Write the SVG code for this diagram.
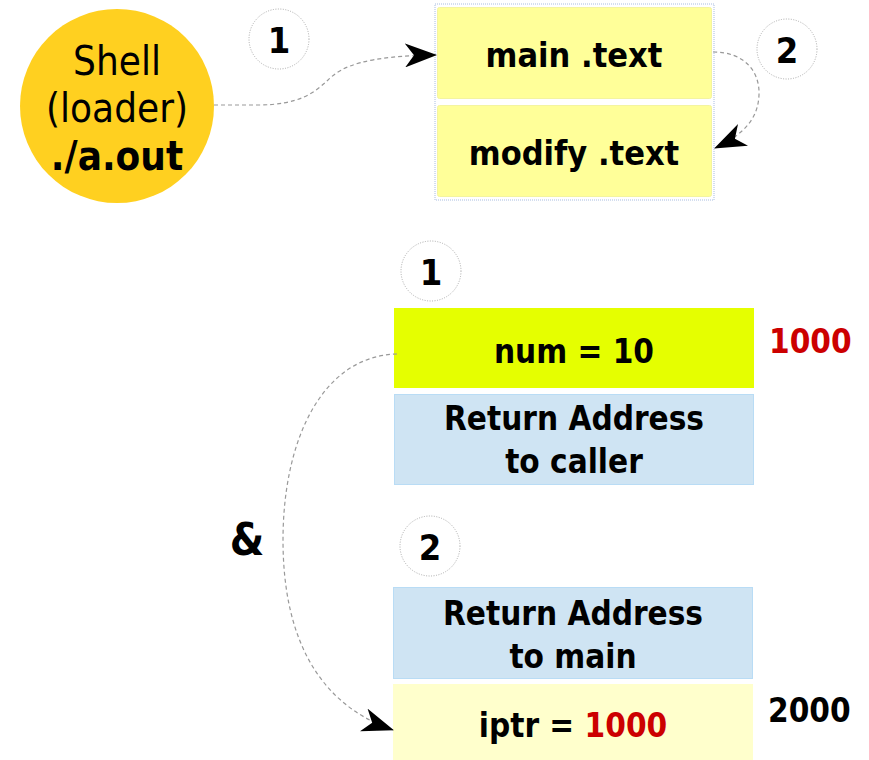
<svg xmlns="http://www.w3.org/2000/svg" width="869" height="760" viewBox="0 0 869 760">
  <style>
    text { font-family: "DejaVu Sans Condensed", "DejaVu Sans", sans-serif; fill: #000; }
    .b { font-weight: bold; }
    .mid { text-anchor: middle; }
    .step { fill: #fff; stroke: #aaa; stroke-width: 1; stroke-dasharray: 1 1.5; }
    .num { font-size: 36px; font-weight: bold; text-anchor: middle; }
    .seg { fill: #ffff99; stroke: #f4f4a0; stroke-width: 1; }
    .cell { font-size: 33px; font-weight: bold; text-anchor: middle; }
    .ret { fill: #cfe4f3; stroke: #b9dcf5; stroke-width: 1; }
    .link { fill: none; stroke: #999; stroke-width: 1.2; stroke-dasharray: 4 3; }
    .red { fill: #cc0000; }
  </style>
  <defs>
    <marker id="arrow" markerUnits="userSpaceOnUse" markerWidth="32" markerHeight="24" refX="31" refY="12" orient="auto">
      <path d="M0,0 L32,12 L0,24 L9,12 Z" fill="#000"/>
    </marker>
  </defs>

  <rect width="869" height="760" fill="#fff"/>

  <!-- loader -->
  <g id="shell">
    <circle cx="117" cy="106" r="97" fill="#ffd020"/>
    <text x="117" y="75" class="mid" font-size="40">Shell</text>
    <text x="117" y="122" class="mid" font-size="40">(loader)</text>
    <text x="117" y="170" class="mid b" font-size="40">./a.out</text>
  </g>

  <!-- text segments -->
  <g id="text-segments">
    <rect x="435" y="4" width="279" height="196" fill="none" stroke="#a9bde0" stroke-width="1" stroke-dasharray="1 1"/>
    <g id="main-text">
      <rect class="seg" x="437.5" y="7.5" width="274" height="91" rx="2"/>
      <text x="574" y="67" class="b mid" font-size="34">main .text</text>
    </g>
    <g id="modify-text">
      <rect class="seg" x="437.5" y="105.5" width="274" height="91" rx="2"/>
      <text x="574" y="165" class="b mid" font-size="34">modify .text</text>
    </g>
  </g>

  <!-- step markers -->
  <g id="step-1-top">
    <circle class="step" cx="279" cy="39" r="30"/>
    <text x="279" y="53" class="num">1</text>
  </g>
  <g id="step-2-top">
    <circle class="step" cx="787" cy="49" r="30"/>
    <text x="787" y="63" class="num">2</text>
  </g>
  <g id="step-1-stack">
    <circle class="step" cx="431" cy="271" r="30"/>
    <text x="431" y="285" class="num">1</text>
  </g>
  <g id="step-2-stack">
    <circle class="step" cx="430" cy="546" r="30"/>
    <text x="430" y="560" class="num">2</text>
  </g>

  <!-- main's frame -->
  <g id="num-cell">
    <rect x="394" y="308" width="360" height="80" fill="#e5ff00"/>
    <text x="574" y="363" class="cell">num = 10</text>
  </g>
  <g id="ret-caller">
    <rect class="ret" x="394.5" y="394.5" width="359" height="90"/>
    <text x="574" y="430" class="cell">Return Address</text>
    <text x="574" y="473" class="cell">to caller</text>
  </g>
  <g id="addr-1000">
    <text x="769" y="353" class="b red" font-size="33">1000</text>
  </g>

  <!-- modify's frame -->
  <g id="ret-main">
    <rect class="ret" x="393.5" y="587.5" width="359" height="91"/>
    <text x="573" y="625" class="cell">Return Address</text>
    <text x="573" y="668" class="cell">to main</text>
  </g>
  <g id="iptr-cell">
    <rect x="393" y="684" width="360" height="76" fill="#ffffcc"/>
    <text x="573" y="737" class="cell">iptr = <tspan class="red">1000</tspan></text>
  </g>
  <g id="addr-2000">
    <text x="768" y="722" class="b" font-size="33">2000</text>
  </g>

  <g id="amp-label">
    <text x="247" y="555" class="b mid" font-size="44">&amp;</text>
  </g>

  <!-- connectors -->
  <g id="connectors">
    <path class="link" d="M214 105 L258 105 C300 105 315 92 328 80 C342 66 365 56 436 55" marker-end="url(#arrow)"/>
    <path class="link" d="M713 52 C745 52 760 72 759 95 C758 118 745 134 715 148" marker-end="url(#arrow)"/>
    <path class="link" d="M397 354 C322 356 283 440 283 540 C283 640 320 705 393 730" marker-end="url(#arrow)"/>
  </g>
</svg>
